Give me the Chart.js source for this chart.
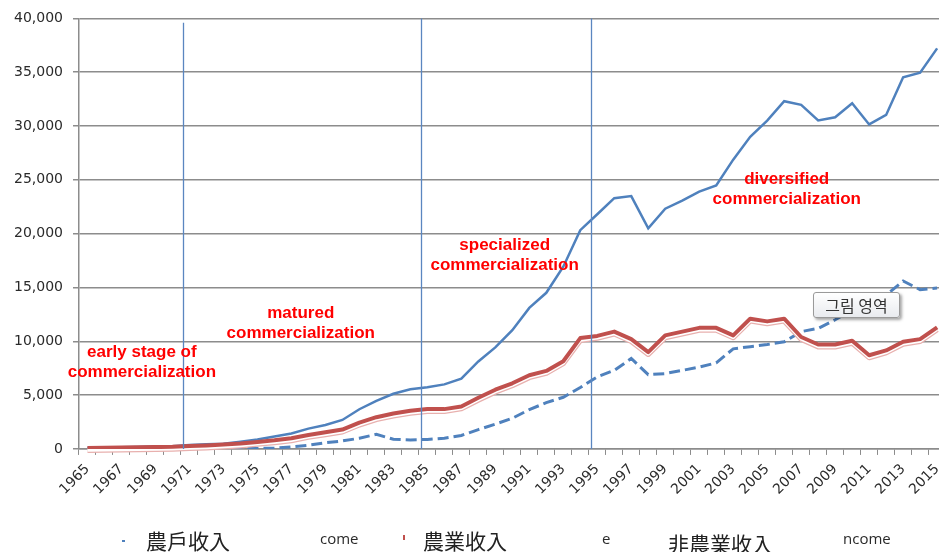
<!DOCTYPE html>
<html>
<head>
<meta charset="utf-8">
<script src="https://cdn.jsdelivr.net/npm/chart.js@4.4.1/dist/chart.umd.min.js"></script>
<style>
  html, body { margin: 0; padding: 0; background: #fff; }
  #frame { position: relative; width: 939px; height: 552px; overflow: hidden; }
  #box { position: absolute; left: 0; top: 0; width: 955px; height: 552px; }
  .lg { position: absolute; white-space: nowrap; }
  .cjk { font-family: "Noto Sans CJK KR"; font-size: 21px; line-height: 24px; color: #222; }
  .en { font-family: "Open Sans"; font-size: 15px; line-height: 18px; color: #2a2a2a; }
  .mark { position: absolute; }
  #tag {
    position: absolute; left: 813px; top: 292px; width: 85px; height: 24px;
    border: 1px solid #9a9a9a; border-radius: 3px;
    background: linear-gradient(#ffffff, #e9ebef);
    box-shadow: 2px 2px 3px rgba(0,0,0,0.35);
    font-family: "Noto Sans CJK KR"; font-size: 16px; line-height: 24px;
    text-align: center; color: #333;
  }
</style>
</head>
<body>
<div id="frame">
  <div id="box"><canvas id="chart"></canvas></div>

  <div class="mark" style="left:122px; top:540px; width:3px; height:2px; background:#4f81bd;"></div>
  <div class="lg cjk" style="left:146px; top:528px;">農戶收入</div>
  <div class="lg en" style="left:320px; top:529px;">come</div>
  <div class="mark" style="left:403px; top:535px; width:2px; height:5px; background:#c0504d;"></div>
  <div class="lg cjk" style="left:423px; top:528px;">農業收入</div>
  <div class="lg en" style="left:602px; top:529px;">e</div>
  <div class="lg cjk" style="left:668px; top:531px;">非農業收入</div>
  <div class="lg en" style="left:843px; top:529px;">ncome</div>

  <div id="tag">그림 영역</div>
</div>

<script>
// categories
const years = [
  "1965", "1966", "1967", "1968", "1969", "1970", "1971", "1972", "1973", "1974",
  "1975", "1976", "1977", "1978", "1979", "1980", "1981", "1982", "1983", "1984",
  "1985", "1986", "1987", "1988", "1989", "1990", "1991", "1992", "1993", "1994",
  "1995", "1996", "1997", "1998", "1999", "2000", "2001", "2002", "2003", "2004",
  "2005", "2006", "2007", "2008", "2009", "2010", "2011", "2012", "2013", "2014",
  "2015"
];

// 農戶收入 (farm household income)
const householdIncome = [
  112, 130, 150, 178, 218, 256, 356, 429, 481, 674,
  873, 1156, 1433, 1884, 2227, 2693, 3688, 4465, 5128, 5549,
  5736, 5995, 6535, 8130, 9437, 11026, 13103, 14505, 16928, 20325,
  21803, 23298, 23488, 20494, 22323, 23072, 23907, 24475, 26878, 29001,
  30503, 32303, 31967, 30523, 30814, 32121, 30148, 31031, 34524, 34950,
  37215
];

// 農業收入 (agricultural income)
const farmIncome = [
  90, 110, 130, 150, 170, 200, 270, 320, 400, 500,
  650, 800, 990, 1300, 1550, 1800, 2450, 2950, 3290, 3550,
  3700, 3700, 3950, 4750, 5500, 6100, 6850, 7250, 8150, 10300,
  10500, 10900, 10200, 9000, 10550, 10900, 11250, 11250, 10550, 12100,
  11850, 12100, 10400, 9700, 9700, 10050, 8700, 9150, 9950, 10200,
  11300
];

// 非農業收入 (non-farm income)
const nonFarmIncome = [
  30, 35, 40, 45, 50, 60, 70, 70, 60, 50,
  40, 80, 190, 340, 580, 740, 990, 1360, 900, 840,
  880, 1000, 1250, 1800, 2300, 2850, 3650, 4300, 4800, 5700,
  6700, 7300, 8400, 6900, 7000, 7300, 7600, 8000, 9300, 9500,
  9700, 9950, 10900, 11200, 12000, 12900, 13500, 14300, 15600, 14800,
  14950
];

// y ticks
const yMin = 0;
const yMax = 40000;
const yStep = 5000;

// phase boundaries (vertical lines) and their tops
const phaseYears = ["1971", "1985", "1995"];
const phaseTops = [39600, 40000, 40000];

// phase labels: [line1, line2], anchored at (year index, value)
const phaseLabels = [
  { lines: ["early stage of", "commercialization"], at: 3.2, value: 8930 },
  { lines: ["matured", "commercialization"], at: 12.55, value: 12560 },
  { lines: ["specialized", "commercialization"], at: 24.55, value: 18880 },
  { lines: ["diversified", "commercialization"], at: 41.15, value: 25020 }
];

const BLUE = "#4f81bd";
const RED = "#c0504d";

// pale double edge under the red line
const redEcho = {
  id: "redEcho",
  beforeDatasetDraw(chart, args) {
    if (args.index !== 1) return;
    const pts = args.meta.data;
    const { ctx, chartArea } = chart;
    const path = () => {
      ctx.beginPath();
      pts.forEach((p, i) => (i ? ctx.lineTo(p.x, p.y) : ctx.moveTo(p.x, p.y)));
    };
    ctx.save();
    ctx.beginPath();
    ctx.rect(chartArea.left, chartArea.top - 5, chartArea.width + 10, chartArea.height + 10);
    ctx.clip();
    ctx.translate(0, 2.2);
    ctx.lineJoin = "round";
    path();
    ctx.strokeStyle = "#e8b0ae";
    ctx.lineWidth = 5.5;
    ctx.stroke();
    path();
    ctx.strokeStyle = "#ffffff";
    ctx.lineWidth = 3;
    ctx.stroke();
    ctx.restore();
  }
};

const phases = {
  id: "phases",
  afterDatasetsDraw(chart) {
    const { ctx, scales: { x, y } } = chart;
    ctx.save();
    ctx.strokeStyle = "#5a86c0";
    ctx.lineWidth = 1.3;
    phaseYears.forEach((yr, i) => {
      const px = Math.round(x.getPixelForValue(years.indexOf(yr) - 0.35)) + 0.5;
      ctx.beginPath();
      ctx.moveTo(px, y.getPixelForValue(phaseTops[i]));
      ctx.lineTo(px, y.getPixelForValue(0));
      ctx.stroke();
    });
    ctx.fillStyle = "#ff0000";
    ctx.font = "bold 17px 'Liberation Sans'";
    ctx.textAlign = "center";
    ctx.textBaseline = "middle";
    phaseLabels.forEach(l => {
      const px = x.getPixelForValue(l.at);
      const py = y.getPixelForValue(l.value);
      l.lines.forEach((t, k) => ctx.fillText(t, px, py + k * 20));
    });
    ctx.restore();
  }
};

new Chart(document.getElementById("chart"), {
  type: "line",
  data: {
    labels: years,
    datasets: [
      {
        label: "農戶收入",
        data: householdIncome,
        borderColor: BLUE,
        borderWidth: 2.5,
        pointRadius: 0,
        tension: 0,
        order: 1
      },
      {
        label: "農業收入",
        data: farmIncome,
        borderColor: RED,
        borderWidth: 4,
        borderJoinStyle: "round",
        pointRadius: 0,
        tension: 0,
        order: 0
      },
      {
        label: "非農業收入",
        data: nonFarmIncome,
        borderColor: BLUE,
        borderWidth: 3,
        borderDash: [11, 5],
        pointRadius: 0,
        tension: 0,
        order: 2
      }
    ]
  },
  options: {
    responsive: true,
    maintainAspectRatio: false,
    animation: false,
    layout: { padding: { left: 4, top: 10, right: 0, bottom: 48 } },
    plugins: {
      legend: { display: false },
      tooltip: { enabled: false }
    },
    scales: {
      x: {
        offset: true,
        grid: { offset: true, drawOnChartArea: false, tickLength: 6, color: "#8c8c8c" },
        border: { color: "#8c8c8c", width: 1.5 },
        ticks: {
          autoSkip: false,
          maxRotation: 45,
          minRotation: 45,
          padding: 6,
          color: "#2a2a2a",
          font: { family: "DejaVu Sans", size: 14 },
          callback(v, i) { return i % 2 === 0 ? this.getLabelForValue(v) : ""; }
        }
      },
      y: {
        min: yMin,
        max: yMax,
        grid: { color: "#8c8c8c", lineWidth: 1.5, tickLength: 6 },
        border: { color: "#8c8c8c", width: 1.5 },
        ticks: {
          stepSize: yStep,
          padding: 10,
          color: "#2a2a2a",
          font: { family: "DejaVu Sans", size: 14 },
          callback: v => v.toLocaleString("en-US")
        }
      }
    }
  },
  plugins: [redEcho, phases]
});
</script>
</body>
</html>
